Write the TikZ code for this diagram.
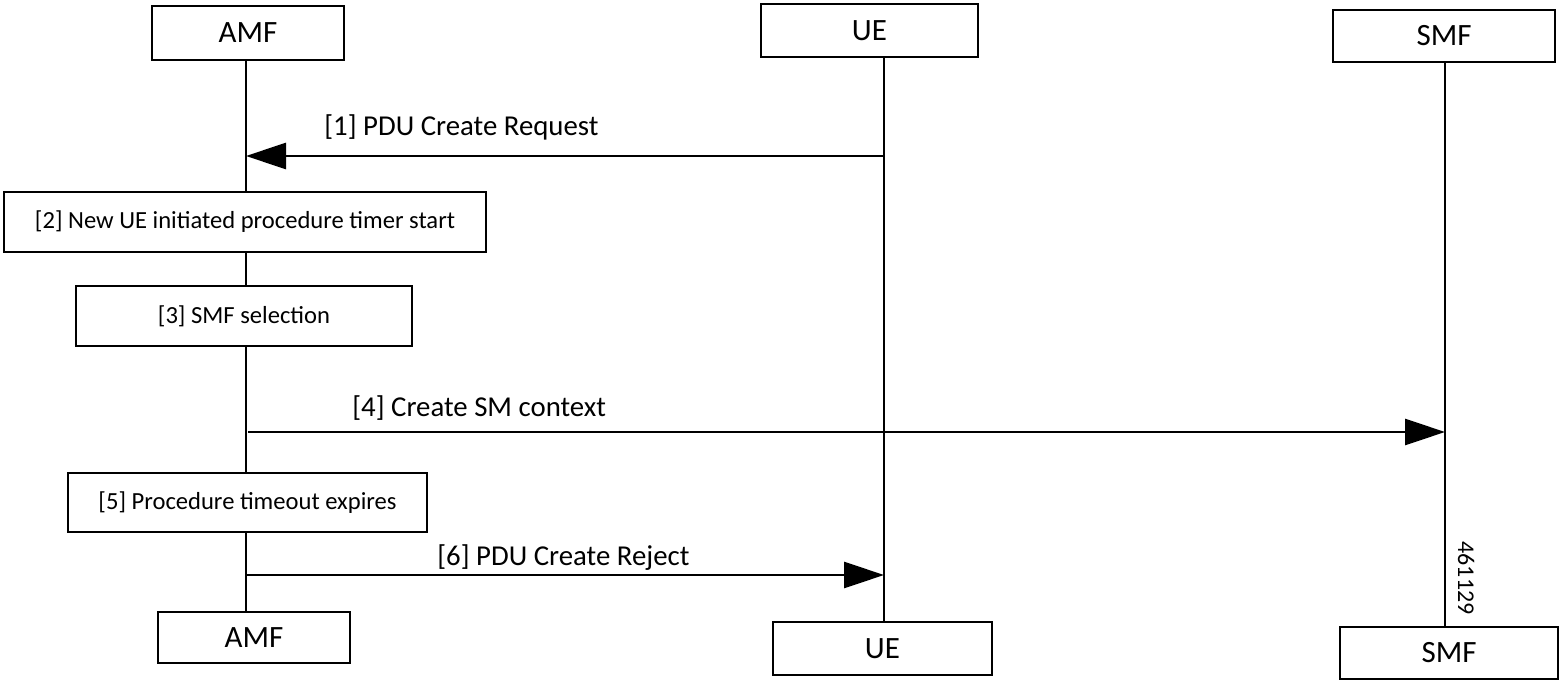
\documentclass[tikz,border=0pt]{standalone}
\usepackage{fontspec}
\setmainfont{Carlito}
\usetikzlibrary{arrows.meta}
\begin{document}
\begin{tikzpicture}[x=0.5pt,y=-0.5pt,
  lw/.style={line width=1.45pt},
  actor/.style={draw,lw,fill=white,inner sep=0pt,font=\fontsize{15.5}{18}\selectfont},
  stepbox/.style={draw,lw,fill=white,inner sep=0pt,font=\fontsize{12.3}{15}\selectfont},
  msg/.style={lw,-{Triangle[length=20pt,width=13pt]}},
  msglabel/.style={inner sep=0pt,anchor=base west,font=\fontsize{14.4}{17}\selectfont}]
\useasboundingbox (0,0) rectangle (1563,690);
% lifeline coordinates
\coordinate (amfTop) at (246,60);
\coordinate (amfBot) at (246,612);
\coordinate (ueTop) at (884,57);
\coordinate (ueBot) at (884,622);
\coordinate (smfTop) at (1445,62);
\coordinate (smfBot) at (1445,627);
% lifelines
\draw[lw] (amfTop) -- (amfBot);
\draw[lw] (ueTop) -- (ueBot);
\draw[lw] (smfTop) -- (smfBot);
% actor boxes
\node[actor,minimum width=96pt,minimum height=27pt] (amfT) at (248,33) {AMF};
\node[actor,minimum width=108.5pt,minimum height=26.5pt] (ueT) at (869.5,30.5) {UE};
\node[actor,minimum width=111pt,minimum height=26pt] (smfT) at (1444,36) {SMF};
\node[actor,minimum width=96pt,minimum height=25.5pt] (amfB) at (254,637.5) {AMF};
\node[actor,minimum width=109.5pt,minimum height=26.5pt] (ueB) at (882.5,648.5) {UE};
\node[actor,minimum width=109pt,minimum height=26pt] (smfB) at (1449,653) {SMF};
% step boxes
\node[stepbox,minimum width=241pt,minimum height=30pt] (b2) at (245,222) {[2] New UE initiated procedure timer start};
\node[stepbox,minimum width=168pt,minimum height=30pt] (b3) at (244,316) {[3] SMF selection};
\node[stepbox,minimum width=179.5pt,minimum height=29.5pt] (b5) at (247.5,502.5) {[5] Procedure timeout expires};
% message endpoints
\coordinate (m1s) at (884,156);
\coordinate (m1e) at (246,156);
\coordinate (m4s) at (248,432);
\coordinate (m4e) at (1445,432);
\coordinate (m6s) at (246,575);
\coordinate (m6e) at (884,575);
\draw[msg] (m1s) -- (m1e);
\draw[msg] (m4s) -- (m4e);
\draw[msg] (m6s) -- (m6e);
% labels
\node[msglabel] (l1) at (324,135) {[1] PDU Create Request};
\node[msglabel] (l4) at (352,416) {[4] Create SM context};
\node[msglabel] (l6) at (437,565) {[6] PDU Create Reject};
\node[inner sep=0pt,rotate=-90,font=\fontsize{12}{14}\selectfont] (fig) at (1466,578) {461129};
\end{tikzpicture}
\end{document}
